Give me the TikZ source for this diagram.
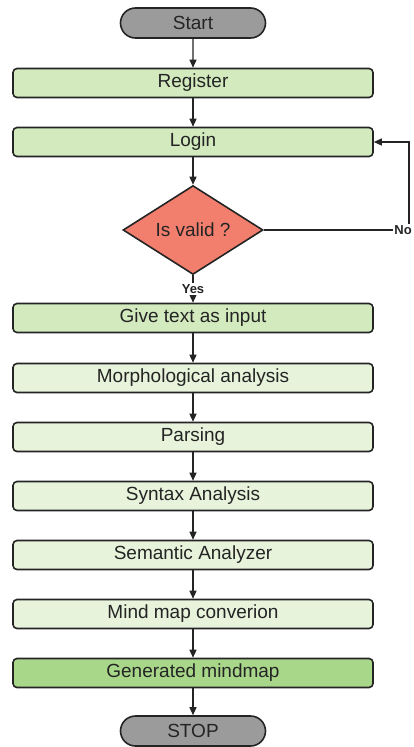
\documentclass[tikz,border=0pt]{standalone}
\usepackage{fontspec}
\setmainfont{Liberation Sans}
\usetikzlibrary{shapes.geometric,shapes.misc,arrows.meta}
\definecolor{termgray}{HTML}{9B9B9B}
\definecolor{stepgreen}{HTML}{D2EABD}
\definecolor{palegreen}{HTML}{E7F3DB}
\definecolor{deepgreen}{HTML}{A8D78A}
\definecolor{salmon}{HTML}{F27F6E}
\definecolor{edge}{HTML}{242424}
\begin{document}
\begin{tikzpicture}[x=1pt, y=-1pt,
    font=\fontsize{19}{21}\selectfont, text=edge,
    terminal/.style={rounded rectangle, draw=edge, fill=termgray, line width=1.6pt,
        minimum width=145pt, minimum height=30pt, inner sep=0pt},
    procbox/.style={draw=edge, line width=1.6pt, rounded corners=4pt,
        minimum width=360pt, minimum height=29pt, inner sep=0pt},
    decide/.style={diamond, draw=edge, fill=salmon, line width=1.6pt,
        minimum width=140pt, minimum height=84pt, inner sep=0pt},
    flow/.style={draw=edge, line width=1.3pt, -{Triangle[length=8pt,width=7pt]}},
    answer/.style={font=\fontsize{13}{14}\selectfont\bfseries, fill=white, inner sep=1pt}]
        \useasboundingbox (0,0) rectangle (414,747);
        %terminals, steps and the check
        \node[terminal] (start) at (193,23) {Start};
        \node[procbox, fill=stepgreen] (register) at (193,83) {Register};
        \node[procbox, fill=stepgreen] (login) at (193,142) {Login};
        \node[decide] (valid) at (193,230) {Is valid ?};
        \node[procbox, fill=stepgreen] (input) at (193,318) {Give text as input};
        \node[procbox, fill=palegreen] (morph) at (193,378) {Morphological analysis};
        \node[procbox, fill=palegreen] (parse) at (193,437) {Parsing};
        \node[procbox, fill=palegreen] (syntax) at (193,496) {Syntax Analysis};
        \node[procbox, fill=palegreen] (semantic) at (193,555) {Semantic Analyzer};
        \node[procbox, fill=palegreen] (convert) at (193,614) {Mind map converion};
        \node[procbox, fill=deepgreen] (mindmap) at (193,673) {Generated mindmap};
        \node[terminal] (stop) at (193,731) {STOP};
        %draw the flow
        \foreach \a/\b in {start/register, register/login, login/valid,
            input/morph, morph/parse, parse/syntax, syntax/semantic,
            semantic/convert, convert/mindmap, mindmap/stop}
            \draw[flow] (\a) -- (\b);
        \draw[flow] (valid) -- node[answer] {Yes} (input);
        \coordinate (corner) at (409,230);
        \draw[flow] (valid.east) -- (corner) |- (login.east);
        \node[answer, anchor=east] (no) at (413,230) {No};
    \end{tikzpicture}
\end{document}
